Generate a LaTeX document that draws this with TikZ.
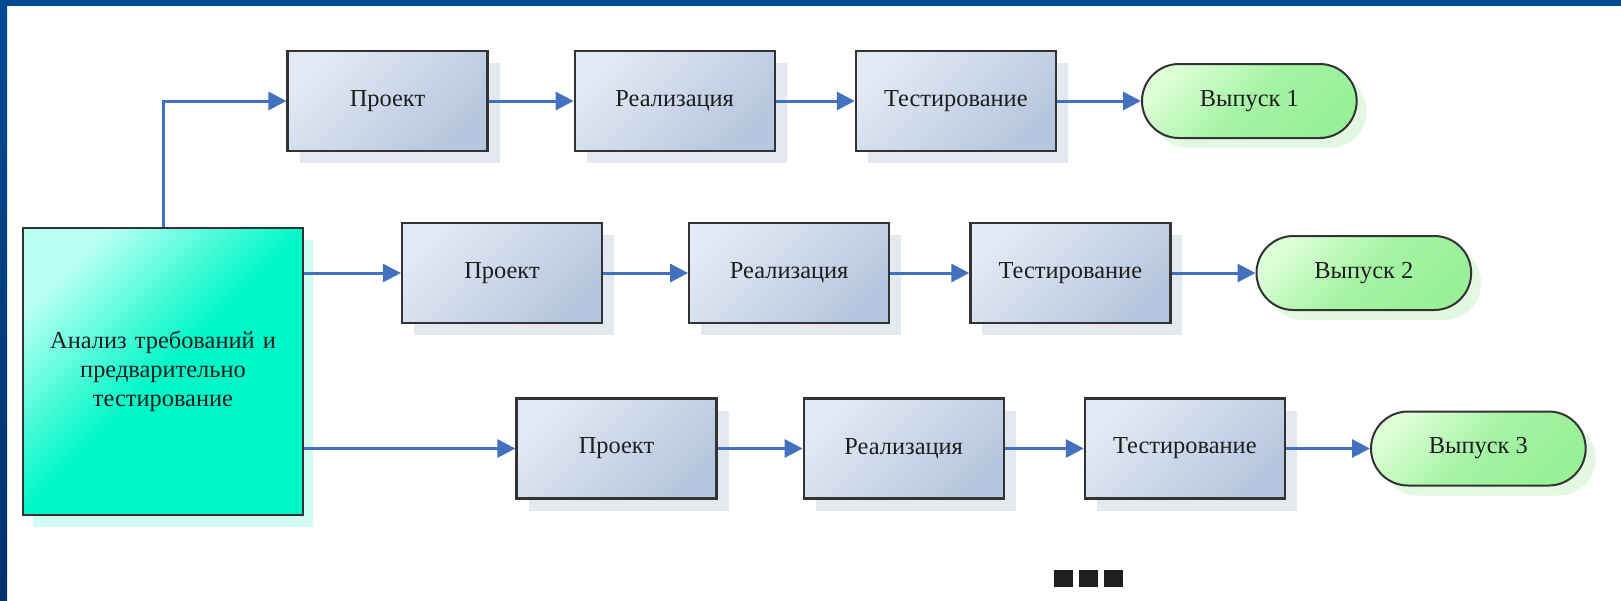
\documentclass[tikz,border=0pt]{standalone}
\usepackage{fontspec}
\setmainfont{Liberation Serif}
\usetikzlibrary{shapes.misc, arrows.meta, positioning, shadows}

\definecolor{frameblue}{HTML}{004A94}
\definecolor{framedark}{HTML}{00306E}
\definecolor{boxtop}{HTML}{E2E9F4}
\definecolor{boxbottom}{HTML}{B6C6DE}
\definecolor{boxshade}{HTML}{E4E8EF}
\definecolor{antop}{HTML}{B8FFF2}
\definecolor{anmain}{HTML}{00F8C8}
\definecolor{anshade}{HTML}{D2FCF2}
\definecolor{reltop}{HTML}{DCFFD6}
\definecolor{relmain}{HTML}{98F098}
\definecolor{relshade}{HTML}{E2F8E2}
\definecolor{arrowblue}{HTML}{4471BF}
\definecolor{textgray}{HTML}{1E1E1E}

\begin{document}
\begin{tikzpicture}[x=0.5pt, y=-0.5pt,
        font=\fontsize{12.2}{14.5}\selectfont, text=textgray,
        stage/.style={rectangle, minimum width=100pt, minimum height=50pt, text centered, draw=black!80, line width=1.1pt,
            top color=boxtop, bottom color=boxbottom, shading angle=45,
            drop shadow={fill=boxshade, opacity=1, shadow xshift=6pt, shadow yshift=-6pt}},
        % Style cho khối phân tích
        analysis/.style={rectangle, minimum width=140pt, minimum height=143.5pt, text width=120pt, align=center, draw=black!80, line width=1.1pt,
            top color=antop, bottom color=anmain, middle color=anmain, shading angle=45,
            drop shadow={fill=anshade, opacity=1, shadow xshift=5pt, shadow yshift=-6pt}},
        % Style cho các bản phát hành
        release/.style={rounded rectangle, minimum width=114pt, minimum height=37pt, text centered, draw=black!80, line width=1pt,
            top color=reltop, bottom color=relmain, middle color=relmain!80!reltop, shading angle=45,
            drop shadow={fill=relshade, opacity=1, shadow xshift=5pt, shadow yshift=-5pt}},
        arrow/.style={draw=arrowblue, line width=1.5pt, -{Triangle[length=9pt, width=9pt]}}
    ]
        \useasboundingbox (0,0) rectangle (1621,600);
        \fill[white] (0,0) rectangle (1621,600);

        % Khung nền
        \fill[frameblue] (0,0) rectangle (1621,6);
        \shade[top color=frameblue, bottom color=framedark] (0,0) rectangle (7,600);

        % Phân tích yêu cầu
        \node (analysis) [analysis] at (163,371.5) {Анализ требований и\\ предварительно\\ тестирование};

        % Hàng 1
        \node (proj1) [stage] at (387.5,101) {Проект};
        \node (impl1) [stage, right=42.5pt of proj1] {Реализация};
        \node (test1) [stage, right=39.5pt of impl1] {Тестирование};
        \node (rel1) [release, right=42pt of test1] {Выпуск 1};

        % Hàng 2
        \node (proj2) [stage] at (502,273) {Проект};
        \node (impl2) [stage, right=42.5pt of proj2] {Реализация};
        \node (test2) [stage, right=39.5pt of impl2] {Тестирование};
        \node (rel2) [release, right=42pt of test2] {Выпуск 2};

        % Hàng 3
        \node (proj3) [stage] at (616.5,448.5) {Проект};
        \node (impl3) [stage, right=42.5pt of proj3] {Реализация};
        \node (test3) [stage, right=39.5pt of impl3] {Тестирование};
        \node (rel3) [release, right=42pt of test3] {Выпуск 3};

        % Mũi tên
        \draw[arrow] (analysis.north) |- (proj1.west);
        \draw[arrow] (analysis.east |- proj2.west) -- (proj2.west);
        \draw[arrow] (analysis.east |- proj3.west) -- (proj3.west);
        \draw[arrow] (proj1) -- (impl1);
        \draw[arrow] (impl1) -- (test1);
        \draw[arrow] (test1) -- (rel1);
        \draw[arrow] (proj2) -- (impl2);
        \draw[arrow] (impl2) -- (test2);
        \draw[arrow] (test2) -- (rel2);
        \draw[arrow] (proj3) -- (impl3);
        \draw[arrow] (impl3) -- (test3);
        \draw[arrow] (test3) -- (rel3);

        % Dấu chấm lửng
        \fill[textgray] (1054,570) rectangle (1073,587);
        \fill[textgray] (1079,570) rectangle (1098,587);
        \fill[textgray] (1104,570) rectangle (1123,587);

    \end{tikzpicture}
\end{document}
